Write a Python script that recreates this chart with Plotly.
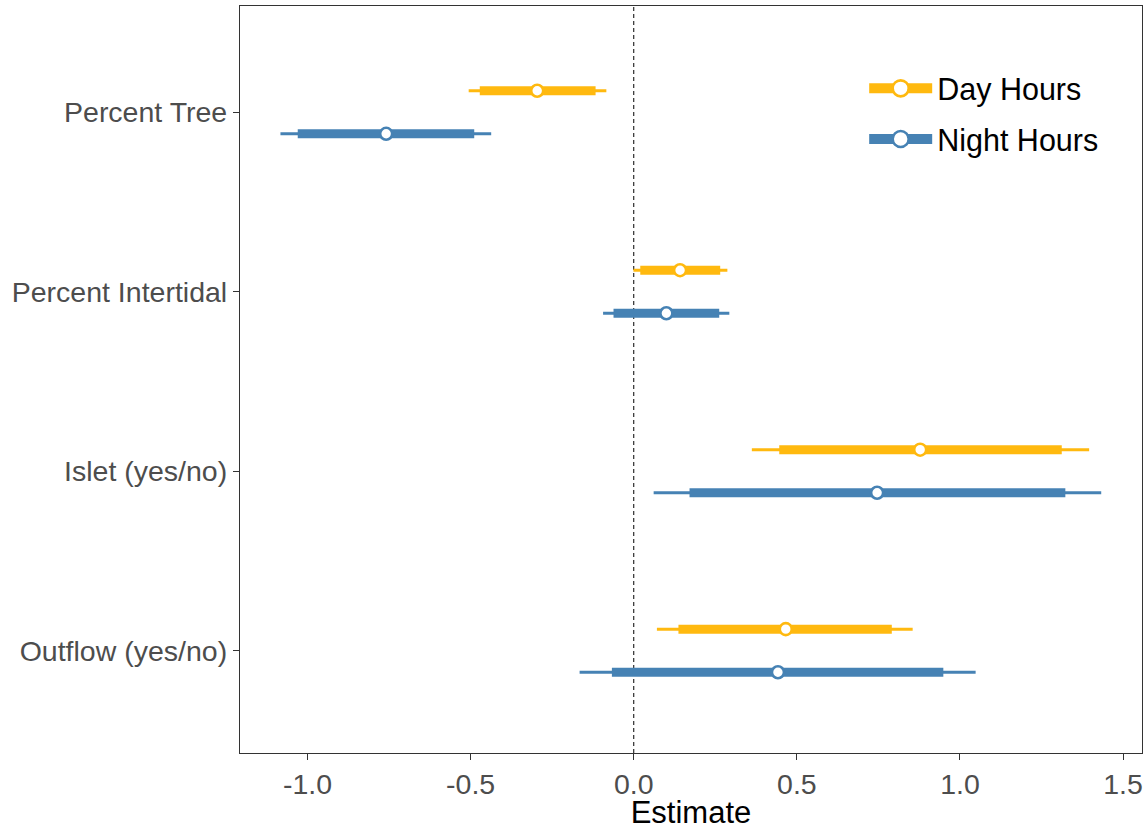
import plotly.graph_objects as go

categories = ["Percent Tree", "Percent Intertidal", "Islet (yes/no)", "Outflow (yes/no)"]
cat_pos = [4, 3, 2, 1]

groups = ["Day Hours", "Night Hours"]
colors = {"Day Hours": "#FFB90F", "Night Hours": "#4682B4"}
offsets = {"Day Hours": 0.12, "Night Hours": -0.12}

estimate = {
    "Day Hours":   [-0.296, 0.142, 0.878, 0.466],
    "Night Hours": [-0.759, 0.100, 0.746, 0.442],
}
inner_lo = {
    "Day Hours":   [-0.472, 0.020, 0.446, 0.137],
    "Night Hours": [-1.030, -0.062, 0.171, -0.067],
}
inner_hi = {
    "Day Hours":   [-0.117, 0.265, 1.312, 0.791],
    "Night Hours": [-0.489, 0.262, 1.323, 0.949],
}
outer_lo = {
    "Day Hours":   [-0.506, -0.001, 0.362, 0.071],
    "Night Hours": [-1.083, -0.094, 0.061, -0.166],
}
outer_hi = {
    "Day Hours":   [-0.084, 0.287, 1.396, 0.855],
    "Night Hours": [-0.437, 0.293, 1.433, 1.048],
}

x_ticks = [-1.0, -0.5, 0.0, 0.5, 1.0, 1.5]
x_ticktext = ["-1.0", "-0.5", "0.0", "0.5", "1.0", "1.5"]

FONT = "Liberation Sans, Arial, sans-serif"

fig = go.Figure()


def segs(lo, hi, ys):
    xs, yy = [], []
    for a, b, y in zip(lo, hi, ys):
        xs += [a, b, None]
        yy += [y, y, None]
    return xs, yy


for g in groups:
    ys = [c + offsets[g] for c in cat_pos]
    xs, yy = segs(outer_lo[g], outer_hi[g], ys)
    fig.add_trace(go.Scatter(x=xs, y=yy, mode="lines", line=dict(color=colors[g], width=3),
                             showlegend=False, hoverinfo="skip", legendgroup=g))
for g in groups:
    ys = [c + offsets[g] for c in cat_pos]
    xs, yy = segs(inner_lo[g], inner_hi[g], ys)
    fig.add_trace(go.Scatter(x=xs, y=yy, mode="lines", line=dict(color=colors[g], width=9),
                             showlegend=False, hoverinfo="skip", legendgroup=g))
for g in groups:
    ys = [c + offsets[g] for c in cat_pos]
    fig.add_trace(go.Scatter(x=estimate[g], y=ys, mode="markers",
                             marker=dict(size=12, color="white",
                                         line=dict(color=colors[g], width=2.6)),
                             showlegend=False, legendgroup=g, name=g))
for g in groups:
    fig.add_trace(go.Scatter(x=[None], y=[None], mode="lines+markers", name=g,
                             legendgroup=g,
                             line=dict(color=colors[g], width=10),
                             marker=dict(size=16, color="white",
                                         line=dict(color=colors[g], width=2.6))))

fig.add_shape(type="line", xref="x", yref="paper", x0=0, x1=0, y0=0, y1=1,
              line=dict(color="black", width=1, dash="4px,3px"), layer="below")

fig.update_layout(
    width=1148, height=830,
    margin=dict(l=240, r=6, t=5, b=73),
    paper_bgcolor="white", plot_bgcolor="white",
    font=dict(family=FONT, color="black"),
    legend=dict(x=0.692, y=0.925, xanchor="left", yanchor="top",
                font=dict(size=30.5, color="black"), bgcolor="rgba(0,0,0,0)",
                tracegroupgap=8, itemwidth=63),
    showlegend=True,
)
fig.update_xaxes(
    range=[-1.207, 1.558], tickvals=x_ticks, ticktext=x_ticktext,
    showgrid=False, zeroline=False, showline=True, mirror=True,
    linecolor="#333333", linewidth=1.2,
    ticks="outside", ticklen=6, tickwidth=1.2, tickcolor="#333333",
    tickfont=dict(size=28.5, color="#4D4D4D", family=FONT),
    title=dict(text="Estimate", font=dict(size=31, color="black", family=FONT), standoff=3),
)
fig.update_yaxes(
    range=[0.43, 4.592], tickvals=cat_pos, ticktext=categories,
    showgrid=False, zeroline=False, showline=True, mirror=True,
    linecolor="#333333", linewidth=1.2,
    ticks="outside", ticklen=6, tickwidth=1.2, tickcolor="#333333",
    tickfont=dict(size=28.5, color="#4D4D4D", family=FONT),
)

fig.write_html("out.html")
